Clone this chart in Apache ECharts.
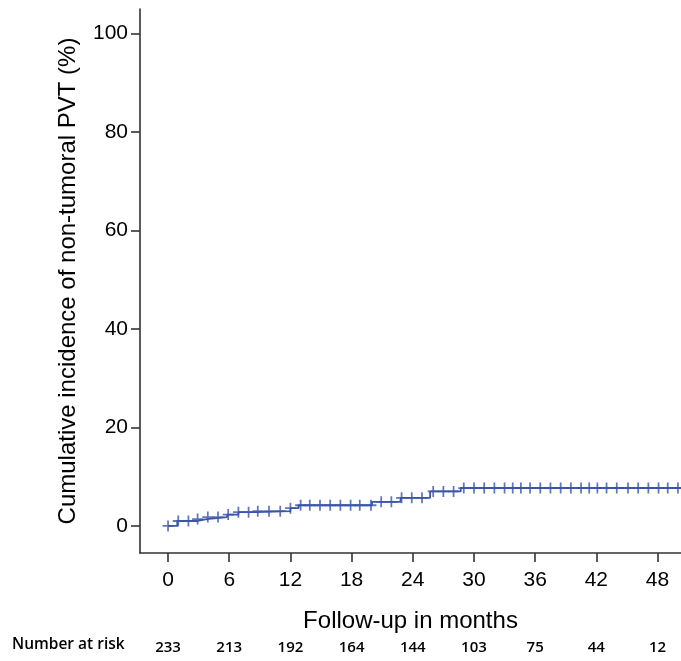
<!DOCTYPE html>
<html>
<head>
<meta charset="utf-8">
<script src="https://cdn.jsdelivr.net/npm/echarts@6/dist/echarts.min.js"></script>
<style>
  html, body { margin: 0; padding: 0; background: #fff; }
  #chart { width: 681px; height: 661px; }
</style>
</head>
<body>
<div id="chart"></div>
<script>
// Cumulative incidence step curve (months, %)
const stepTimes  = [0, 0.9, 2.8, 3.8, 5.8, 6.9, 8.7, 12.0, 12.8, 20.0, 22.8, 25.7, 28.7, 50.3];
const stepValues = [0, 1.0, 1.4, 1.8, 2.3, 2.8, 3.0, 3.6, 4.2, 4.9, 5.7, 7.0, 7.7, 7.7];

// Censored observations (months)
const censorTimes = [0, 1.0, 2.0, 2.9, 3.9, 4.9, 5.9, 6.9, 7.9, 8.8, 9.9, 11.0, 12.0, 13.0,
  13.9, 14.9, 15.9, 16.9, 17.9, 18.8, 19.9, 20.9, 21.9, 22.9, 23.9, 24.9, 26.0, 27.0,
  28.0, 29.0, 30.0, 31.0, 32.0, 33.0, 33.8, 34.6, 35.5, 36.5, 37.5, 38.5, 39.5, 40.5,
  41.3, 42.1, 43.0, 44.0, 45.1, 46.1, 47.1, 48.1, 49.0, 50.0];

// Axis ticks
const xTicks = [0, 6, 12, 18, 24, 30, 36, 42, 48];
const yTicks = [0, 20, 40, 60, 80, 100];

// Number at risk below the axis
const riskTimes  = [0, 6, 12, 18, 24, 30, 36, 42, 48];
const riskCounts = [233, 213, 192, 164, 144, 103, 75, 44, 12];

const lineColor = '#3b55a8';

function levelAt(t) {
  let v = 0;
  for (let i = 0; i < stepTimes.length; i++) {
    if (stepTimes[i] <= t) v = stepValues[i];
  }
  return v;
}

const curve = stepTimes.map((t, i) => [t, stepValues[i]]);
const censors = censorTimes.map(t => [t, levelAt(t)]);

const chart = echarts.init(document.getElementById('chart'), null, { renderer: 'canvas' });

const axisFont = 'Liberation Sans, Arial, sans-serif';

chart.setOption({
  backgroundColor: '#fff',
  animation: false,
  grid: { left: 140, right: 0, top: 9, bottom: 108, containLabel: false },
  xAxis: {
    type: 'value',
    min: -2.75,
    max: 50.3,
    name: 'Follow-up in months',
    nameLocation: 'middle',
    nameGap: 56,
    nameTextStyle: { fontFamily: axisFont, fontSize: 24, color: '#000' },
    axisLine: { show: true, onZero: false, lineStyle: { color: '#333', width: 1.6 } },
    axisTick: { show: true, customValues: xTicks, length: 9, lineStyle: { color: '#333', width: 1.6 } },
    axisLabel: { customValues: xTicks, fontFamily: axisFont, fontSize: 21, color: '#000', margin: 17 },
    splitLine: { show: false }
  },
  yAxis: {
    type: 'value',
    min: -5.5,
    max: 105,
    name: 'Cumulative incidence of non-tumoral PVT (%)',
    nameLocation: 'middle',
    nameRotate: 90,
    nameGap: 60,
    nameTextStyle: { fontFamily: axisFont, fontSize: 24, color: '#000' },
    axisLine: { show: true, onZero: false, lineStyle: { color: '#333', width: 1.6 } },
    axisTick: { show: true, customValues: yTicks, length: 9, lineStyle: { color: '#333', width: 1.6 } },
    axisLabel: { customValues: yTicks, fontFamily: axisFont, fontSize: 21, color: '#000', margin: 12 },
    splitLine: { show: false }
  },
  series: [
    {
      type: 'line',
      data: curve,
      step: 'end',
      showSymbol: false,
      lineStyle: { color: lineColor, width: 1.8 },
      clip: true,
      z: 2
    },
    {
      type: 'scatter',
      data: censors,
      symbol: 'path://M4.2,0h1.6v4.2h4.2v1.6h-4.2v4.2h-1.6v-4.2h-4.2v-1.6h4.2z',
      symbolSize: [11, 11],
      itemStyle: { color: lineColor },
      clip: true,
      z: 3
    }
  ]
});

// Number-at-risk row, positioned through the x axis scale
const riskY = 648;
const riskFont = 'Open Sans, Noto Sans, sans-serif';
const graphics = [{
  type: 'text',
  left: 12,
  top: riskY - 11,
  style: { text: 'Number at risk', font: '600 15.5px ' + riskFont, fill: '#000' }
}];
riskTimes.forEach((t, i) => {
  const px = chart.convertToPixel({ xAxisIndex: 0 }, t);
  graphics.push({
    type: 'text',
    x: px,
    y: riskY,
    style: {
      text: String(riskCounts[i]),
      font: '600 15px ' + riskFont,
      fill: '#000',
      align: 'center',
      verticalAlign: 'middle'
    }
  });
});
chart.setOption({ graphic: graphics });
</script>
</body>
</html>
